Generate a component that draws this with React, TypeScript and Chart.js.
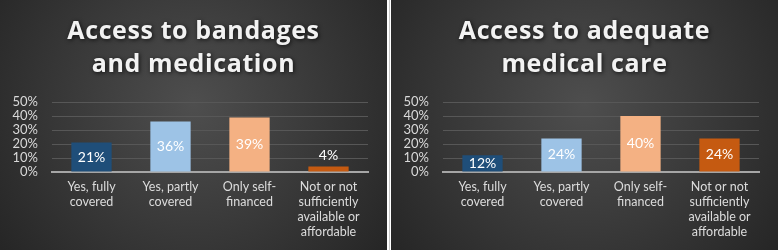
import React, { useEffect, useRef } from "react";
import { Chart, registerables } from "chart.js";

Chart.register(...registerables);

const categories: string[][] = [
  ["Yes, fully", "covered"],
  ["Yes, partly", "covered"],
  ["Only self-", "financed"],
  ["Not or not", "sufficiently", "available or", "affordable"],
];
const bandagesValues = [21, 36, 39, 4];
const medicalCareValues = [12, 24, 40, 24];
const barColors = ["#1f4e79", "#9dc3e6", "#f4b183", "#c55a11"];
const bandagesTitle = ["Access to bandages", "and medication"];
const medicalTitle = ["Access to adequate", "medical care"];
const yMax = 50;
const yStep = 10;

const bgPlugin = {
  id: "bgGradient",
  beforeDraw(chart: any) {
    const { ctx, width, height } = chart;
    const cx = width / 2;
    const cy = height * 0.42;
    const g = ctx.createRadialGradient(cx, cy, 0, cx, cy, Math.max(width, height) * 0.62);
    g.addColorStop(0, "#4e4e4e");
    g.addColorStop(1, "#262626");
    ctx.save();
    ctx.fillStyle = g;
    ctx.fillRect(0, 0, width, height);
    ctx.restore();
  },
};

const titlePlugin = {
  id: "fancyTitle",
  afterDraw(chart: any) {
    const tb = chart.titleBlock;
    const opts = chart.options.plugins.title;
    const lines: string[] = opts.text;
    const size = opts.font.size;
    const lh = size * opts.font.lineHeight;
    const top = tb.top + opts.padding.top;
    const ctx = chart.ctx;
    ctx.save();
    ctx.font = `bold ${size}px "Open Sans"`;
    (ctx as any).letterSpacing = "0.6px";
    ctx.textAlign = "center";
    ctx.textBaseline = "middle";
    ctx.fillStyle = "#f2f2f2";
    ctx.shadowColor = "rgba(0,0,0,0.75)";
    ctx.shadowBlur = 4;
    ctx.shadowOffsetX = 1;
    ctx.shadowOffsetY = 1;
    lines.forEach((l, i) => ctx.fillText(l, chart.width / 2, top + lh * (i + 0.5)));
    ctx.restore();
  },
};

const labelPlugin = {
  id: "barLabels",
  afterDatasetsDraw(chart: any) {
    const ctx = chart.ctx;
    const meta = chart.getDatasetMeta(0);
    const data = chart.data.datasets[0].data;
    ctx.save();
    ctx.font = '14px Lato';
    ctx.fillStyle = "#ffffff";
    ctx.textAlign = "center";
    ctx.textBaseline = "middle";
    meta.data.forEach((bar: any, i: number) => {
      const { x, y, base } = bar.getProps(["x", "y", "base"], true);
      const h = base - y;
      const ty = h > 12 ? (y + base) / 2 : y - 11;
      ctx.fillText(data[i] + "%", x, ty);
    });
    ctx.restore();
  },
};

function Panel({ title, values }: { title: string[]; values: number[] }) {
  const ref = useRef<HTMLCanvasElement>(null);
  useEffect(() => {
    if (!ref.current) return;
    const chart = new Chart(ref.current, {
      type: "bar",
      data: {
        labels: categories,
        datasets: [
          {
            data: values,
            backgroundColor: barColors,
            categoryPercentage: 1,
            barPercentage: 0.51,
          },
        ],
      },
      options: {
        responsive: false,
        animation: false,
        layout: { padding: { left: 0, right: 19, top: 0, bottom: 0 } },
        plugins: {
          legend: { display: false },
          tooltip: { enabled: false },
          title: {
            display: true,
            text: title,
            color: "rgba(0,0,0,0)",
            font: { family: "Open Sans", size: 25, weight: "bold", lineHeight: 1.34 },
            padding: { top: 15, bottom: 20 },
          },
        },
        scales: {
          x: {
            grid: { display: false, drawTicks: false },
            border: { display: true, color: "#a6a6a6", width: 2 },
            ticks: {
              color: "#dcdcdc",
              padding: 8,
              maxRotation: 0,
              autoSkip: false,
              font: { family: "Lato", size: 12.5, lineHeight: 1.18 },
            },
            afterFit(scale: any) {
              scale.height = 78;
            },
          },
          y: {
            min: 0,
            max: yMax,
            grid: { color: "#575757", lineWidth: 1, drawTicks: false },
            border: { display: false },
            ticks: {
              stepSize: yStep,
              autoSkip: false,
              color: "#d9d9d9",
              padding: 14,
              font: { family: "Lato", size: 13, lineHeight: 1 },
              callback: (v: any) => v + "%",
            },
            afterFit(scale: any) {
              scale.width = 52;
            },
          },
        },
      },
      plugins: [bgPlugin, titlePlugin, labelPlugin],
    });
    return () => chart.destroy();
  }, []);
  return <canvas ref={ref} width={387} height={250} style={{ display: "block", width: 387, height: 250 }} />;
}

export default function App() {
  return (
    <div style={{ position: "fixed", left: 0, top: 0, width: 778, height: 250, background: "#ffffff" }}>
      <div style={{ position: "absolute", left: 0, top: 0 }}>
        <Panel title={bandagesTitle} values={bandagesValues} />
      </div>
      <div style={{ position: "absolute", left: 389, top: 0, width: 1, height: 250, background: "#c8c8c8" }} />
      <div style={{ position: "absolute", left: 391, top: 0 }}>
        <Panel title={medicalTitle} values={medicalCareValues} />
      </div>
    </div>
  );
}
